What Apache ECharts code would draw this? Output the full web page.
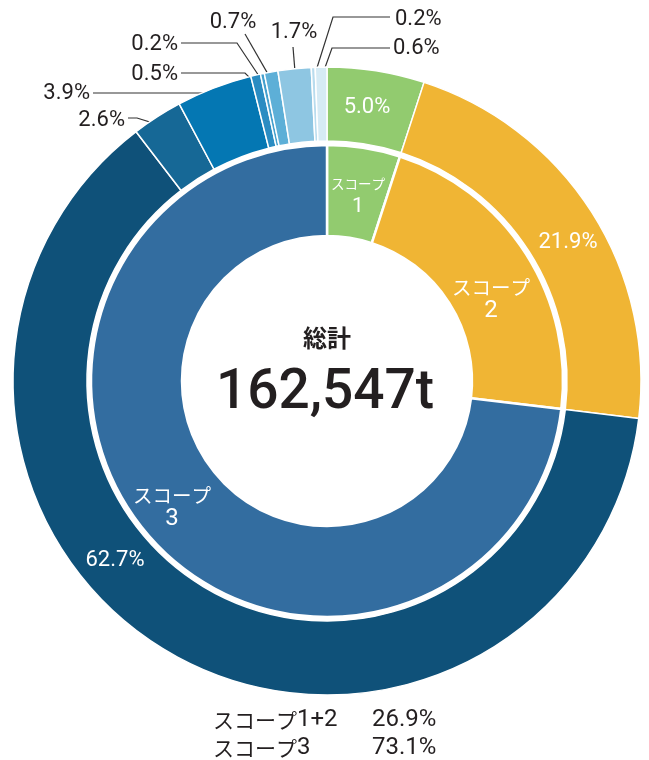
<!DOCTYPE html>
<html>
<head>
<meta charset="utf-8">
<script src="https://cdn.jsdelivr.net/npm/echarts@6/dist/echarts.min.js"></script>
<style>
html,body{margin:0;padding:0;background:#fff;}
#chart{width:649px;height:760px;}
</style>
</head>
<body>
<div id="chart"></div>
<script>
// ---- data ----
const innerNames = ['スコープ', 'スコープ', 'スコープ'];
const innerNums = ['1', '2', '3'];
const innerValues = [5.0, 21.9, 73.1];
const outerNames = ['スコープ1', 'スコープ2', 'スコープ3-a', 'スコープ3-b', 'スコープ3-c', 'スコープ3-d', 'スコープ3-e', 'スコープ3-f', 'スコープ3-g', 'スコープ3-h', 'スコープ3-i'];
const outerValues = [5.0, 21.9, 62.7, 2.6, 3.9, 0.5, 0.2, 0.7, 1.7, 0.2, 0.6];
const totalLabel = '総計';
const totalValue = '162,547t';
const summaryLabels = ['スコープ', 'スコープ'];
const summaryNums = ['1+2', '3'];
const summaryValues = ['26.9%', '73.1%'];

// ---- styles ----
const innerColors = ['#92CB6F', '#F0B534', '#336DA0'];
const outerColors = ['#92CB6F', '#F0B534', '#0F5179', '#166896', '#0477B3', '#2A8CC2', '#45A0CE', '#5DAFD7', '#8EC6E2', '#B9DCEE', '#D6EBF5'];
const CX = 327, CY = 381;
const NUM_FONT = 'Roboto, "Noto Sans CJK JP", sans-serif';
const JP_FONT = '"Noto Sans CJK JP", sans-serif';
const TXT = '#231F20';

const outerTotal = outerValues.reduce((a, b) => a + b, 0);
const outerMid = [];
(function () { let s = 0; outerValues.forEach(v => { outerMid.push(s + v / 2); s += v; }); })();
function anchor(i, r) {
  const a = outerMid[i] / outerTotal * Math.PI * 2;
  return [CX + r * Math.sin(a), CY - r * Math.cos(a)];
}
// label placement (annotation layout)
const innerLabelPos = { 0: [358, 196], 1: [491, 299], 2: [172, 507] };
const labelSpec = {
  0: { x: 367, y: 107, align: 'center' },
  1: { x: 568, y: 242, align: 'center' },
  2: { x: 115, y: 560, align: 'center' },
  3: { x: 125, y: 120, align: 'right', bend: [137, 118], end: [128, 118] },
  4: { x: 90, y: 93, align: 'right', bend: null, end: [93, 93] },
  5: { x: 178, y: 74, align: 'right', bend: [245, 73], end: [181, 73] },
  6: { x: 178, y: 44, align: 'right', bend: [237, 43], end: [181, 43] },
  7: { x: 233, y: 22, align: 'center', bend: [245, 34], end: [245, 34] },
  8: { x: 294, y: 32, align: 'center', bend: [293, 47], end: [293, 47] },
  9: { x: 395, y: 19, align: 'left', bend: [333, 17], end: [390, 17] },
  10: { x: 393, y: 48, align: 'left', bend: [332, 48], end: [390, 48] }
};

const outerData = outerValues.map((v, i) => {
  const small = i >= 3;
  return {
    name: outerNames[i],
    value: v,
    itemStyle: { color: outerColors[i] },
    label: {
      position: small ? 'outside' : 'inside',
      color: small ? TXT : '#fff'
    },
    labelLine: { show: small }
  };
});

const innerData = innerValues.map((v, i) => ({
  name: innerNames[i],
  num: innerNums[i],
  value: v,
  itemStyle: { color: innerColors[i] },
  label: {
    formatter: (i === 0 ? '{ks|' : '{k|') + innerNames[i] + '}\n' + (i === 0 ? '{ns|' : '{n|') + innerNums[i] + '}'
  }
}));

const chart = echarts.init(document.getElementById('chart'), null, { renderer: 'canvas' });
chart.setOption({
  animation: false,
  backgroundColor: '#fff',
  series: [
    {
      type: 'pie',
      center: [CX, CY],
      radius: [145, 236],
      startAngle: 90,
      clockwise: true,
      avoidLabelOverlap: false,
      itemStyle: { borderColor: '#fff', borderWidth: 2.5 },
      label: {
        show: true,
        position: 'inside',
        color: '#fff',
        align: 'center',
        rich: {
          k: { fontFamily: JP_FONT, fontSize: 19.5, lineHeight: 23, color: '#fff', align: 'center' },
          n: { fontFamily: NUM_FONT, fontSize: 24, lineHeight: 23, color: '#fff', align: 'center' },
          ks: { fontFamily: JP_FONT, fontSize: 13.5, lineHeight: 22, color: '#fff', align: 'center' },
          ns: { fontFamily: NUM_FONT, fontSize: 21, lineHeight: 24, color: '#fff', align: 'center' }
        }
      },
      labelLine: { show: false },
      labelLayout: function (params) {
        if (params.seriesIndex !== 0) return;
        const p = innerLabelPos[params.dataIndex];
        if (!p) return;
        return { x: p[0], y: p[1], align: 'center', verticalAlign: 'middle' };
      },
      emphasis: { disabled: true },
      data: innerData
    },
    {
      type: 'pie',
      center: [CX, CY],
      radius: [240, 314],
      startAngle: 90,
      clockwise: true,
      avoidLabelOverlap: false,
      itemStyle: { borderColor: '#fff', borderWidth: 1.5 },
      label: {
        show: true,
        fontSize: 22,
        fontFamily: NUM_FONT,
        formatter: p => p.value.toFixed(1) + '%'
      },
      labelLine: { show: true, lineStyle: { color: '#333', width: 1.2 } },
      emphasis: { disabled: true },
      labelLayout: function (params) {
        if (params.seriesIndex !== 1) return;
        const s = labelSpec[params.dataIndex];
        if (!s) return;
        const out = { x: s.x, y: s.y, align: s.align, verticalAlign: 'middle' };
        if (s.end) {
          const a = anchor(params.dataIndex, 303);
          const bend = s.bend || [a[0] - 2, s.end[1]];
          out.labelLinePoints = [a, bend, s.end];
        }
        return out;
      },
      data: outerData
    }
  ],
  graphic: [
    { type: 'text', x: CX, y: 338, style: { text: totalLabel, fill: TXT, font: 'bold 24px ' + JP_FONT, textAlign: 'center', textVerticalAlign: 'middle' } },
    { type: 'text', x: 325, y: 394, style: { text: totalValue, fill: TXT, font: '500 55px ' + NUM_FONT, textAlign: 'center', textVerticalAlign: 'middle' } },
    {
      type: 'text', x: 213, y: 720, style: {
        text: '{k|' + summaryLabels[0] + '}{n|' + summaryNums[0] + '}', textAlign: 'left', textVerticalAlign: 'middle',
        rich: { k: { fontFamily: JP_FONT, fontSize: 21, fill: TXT }, n: { fontFamily: NUM_FONT, fontSize: 24, fill: TXT } }
      }
    },
    { type: 'text', x: 372, y: 720, style: { text: summaryValues[0], fill: TXT, font: '24px ' + NUM_FONT, textAlign: 'left', textVerticalAlign: 'middle' } },
    {
      type: 'text', x: 213, y: 748, style: {
        text: '{k|' + summaryLabels[1] + '}{n|' + summaryNums[1] + '}', textAlign: 'left', textVerticalAlign: 'middle',
        rich: { k: { fontFamily: JP_FONT, fontSize: 21, fill: TXT }, n: { fontFamily: NUM_FONT, fontSize: 24, fill: TXT } }
      }
    },
    { type: 'text', x: 372, y: 748, style: { text: summaryValues[1], fill: TXT, font: '24px ' + NUM_FONT, textAlign: 'left', textVerticalAlign: 'middle' } }
  ]
});
</script>
</body>
</html>
